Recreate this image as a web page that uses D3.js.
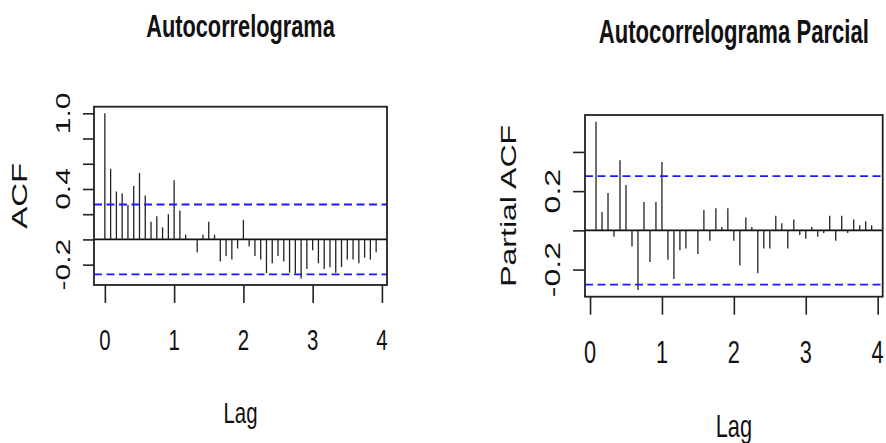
<!DOCTYPE html>
<html>
<head>
<meta charset="utf-8">
<script src="https://cdn.jsdelivr.net/npm/d3@7"></script>
<style>
  body { margin: 0; background: #fff; }
  svg text { font-family: "Liberation Sans", Arial, sans-serif; fill: #111; }
</style>
</head>
<body>
<div id="chart"></div>
<script>
// ACF / PACF values (lag in years, frequency 12)
const frequency = 12;
const acfValues = [1.0, 0.56, 0.38, 0.365, 0.272, 0.424, 0.528, 0.349, 0.141, 0.184,
  0.096, 0.2, 0.469, 0.229, 0.037, -0.004, -0.101, 0.037, 0.141, 0.037,
  -0.176, -0.131, -0.16, -0.072, 0.155, -0.056, -0.131, -0.16, -0.267, -0.189,
  -0.131, -0.176, -0.264, -0.272, -0.309, -0.235, -0.085, -0.189, -0.235, -0.221,
  -0.264, -0.219, -0.16, -0.16, -0.189, -0.144, -0.16, -0.101];
const pacfValues = [0.554, 0.094, 0.191, -0.032, 0.357, 0.231, -0.082, -0.304, 0.144, -0.161,
  0.144, 0.349, -0.15, -0.248, -0.101, -0.092, -0.003, -0.121, 0.104, -0.053,
  0.113, 0.017, 0.113, -0.053, -0.179, 0.065, 0.017, -0.219, -0.092, -0.092,
  0.075, 0.036, -0.092, 0.055, -0.024, -0.043, 0.017, -0.032, -0.014, 0.075,
  -0.053, 0.075, -0.014, 0.055, 0.026, 0.046, 0.026];
const confLimit = 0.277;
const xTicks = [0, 1, 2, 3, 4];
const acfTicks = [-0.2, 0, 0.2, 0.4, 0.6, 0.8, 1.0];
const acfTickLabels = [-0.2, 0.4, 1.0];
const pacfTicks = [-0.2, 0, 0.2, 0.4];
const pacfTickLabels = [-0.2, 0.2];

const W = 886, H = 443;
const SX = 0.68; // horizontal squeeze of the original picture

const svg = d3.select("#chart").append("svg")
  .attr("width", W).attr("height", H);

function addText(g, x, y, txt, size, opts = {}) {
  const t = g.append("text")
    .attr("transform", `translate(${x},${y}) scale(${SX},1)` + (opts.rotate ? ` rotate(${opts.rotate})` : ""))
    .attr("text-anchor", opts.anchor || "middle")
    .style("font-size", size + "px")
    .text(txt);
  if (opts.bold) t.style("font-weight", "bold");
  return t;
}

function panel(cfg) {
  const g = svg.append("g");
  const lags = cfg.values.map((v, i) => (i + cfg.startLag) / frequency);
  const [lo, hi] = d3.extent(cfg.values.concat([confLimit, -confLimit]));
  const [l0, l1] = d3.extent(lags);
  const padY = (hi - lo) * 0.04, padX = (l1 - l0) * 0.04;

  const x = d3.scaleLinear().domain([l0 - padX, l1 + padX]).range([cfg.box.left, cfg.box.right]);
  const y = d3.scaleLinear().domain([lo - padY, hi + padY]).range([cfg.box.bottom, cfg.box.top]);

  // x axis ticks
  const xAxis = g.append("g")
    .attr("transform", `translate(0,${cfg.box.bottom})`)
    .call(d3.axisBottom(x).tickValues(xTicks).tickSize(cfg.xTickLen).tickFormat(""));
  xAxis.select(".domain").remove();
  xAxis.selectAll("line").attr("stroke", "#222").attr("stroke-width", 1.6);

  // y axis ticks
  const yAxis = g.append("g")
    .attr("transform", `translate(${cfg.box.left},0)`)
    .call(d3.axisLeft(y).tickValues(cfg.yTicks).tickSize(cfg.yTickLen).tickFormat(""));
  yAxis.select(".domain").remove();
  yAxis.selectAll("line").attr("stroke", "#222").attr("stroke-width", 1.6);

  // tick labels
  xTicks.forEach(t => addText(g, x(t), cfg.xLabelY, String(t), cfg.fontSize));
  cfg.yLabels.forEach(t => addText(g, cfg.yLabelX, y(t), t.toFixed(1), cfg.fontSize, { rotate: -90 }));

  // zero line
  g.append("line")
    .attr("x1", cfg.box.left).attr("x2", cfg.box.right)
    .attr("y1", y(0)).attr("y2", y(0))
    .attr("stroke", "#111").attr("stroke-width", 1.6);

  // spikes
  g.selectAll("line.spike")
    .data(cfg.values)
    .join("line")
    .attr("class", "spike")
    .attr("x1", (d, i) => x(lags[i])).attr("x2", (d, i) => x(lags[i]))
    .attr("y1", y(0)).attr("y2", d => y(d))
    .attr("stroke", "#222").attr("stroke-width", 1.3);

  // confidence limits
  [confLimit, -confLimit].forEach(c => {
    g.append("line")
      .attr("x1", cfg.box.left).attr("x2", cfg.box.right)
      .attr("y1", y(c)).attr("y2", y(c))
      .attr("stroke", "#1a1aff").attr("stroke-width", 1.8)
      .attr("stroke-dasharray", "8,4.5");
  });

  // box
  g.append("rect")
    .attr("x", cfg.box.left).attr("y", cfg.box.top)
    .attr("width", cfg.box.right - cfg.box.left)
    .attr("height", cfg.box.bottom - cfg.box.top)
    .attr("fill", "none").attr("stroke", "#222").attr("stroke-width", 1.8);

  // titles
  const cx = (cfg.box.left + cfg.box.right) / 2;
  addText(g, cx, cfg.titleY, cfg.title, cfg.titleSize, { bold: true });
  addText(g, cx, cfg.xTitleY, "Lag", cfg.fontSize);
  addText(g, cfg.yTitleX, (cfg.box.top + cfg.box.bottom) / 2, cfg.yTitle, cfg.yTitleSize, { rotate: -90 });
}

panel({
  values: acfValues, startLag: 0,
  box: { left: 94, right: 387, top: 106.7, bottom: 285 },
  yTicks: acfTicks, yLabels: acfTickLabels,
  xTickLen: 18, yTickLen: 11,
  xLabelY: 350, yLabelX: 70,
  fontSize: 30, titleSize: 32,
  title: "Autocorrelograma", titleY: 36.7,
  xTitleY: 423.3, yTitle: "ACF", yTitleX: 27, yTitleSize: 33
});

panel({
  values: pacfValues, startLag: 1,
  box: { left: 585, right: 882.7, top: 115, bottom: 296.7 },
  yTicks: pacfTicks, yLabels: pacfTickLabels,
  xTickLen: 18, yTickLen: 12,
  xLabelY: 363.3, yLabelX: 560,
  fontSize: 32, titleSize: 32.5,
  title: "Autocorrelograma Parcial", titleY: 43.3,
  xTitleY: 436.7, yTitle: "Partial ACF", yTitleX: 516, yTitleSize: 32
});
</script>
</body>
</html>
